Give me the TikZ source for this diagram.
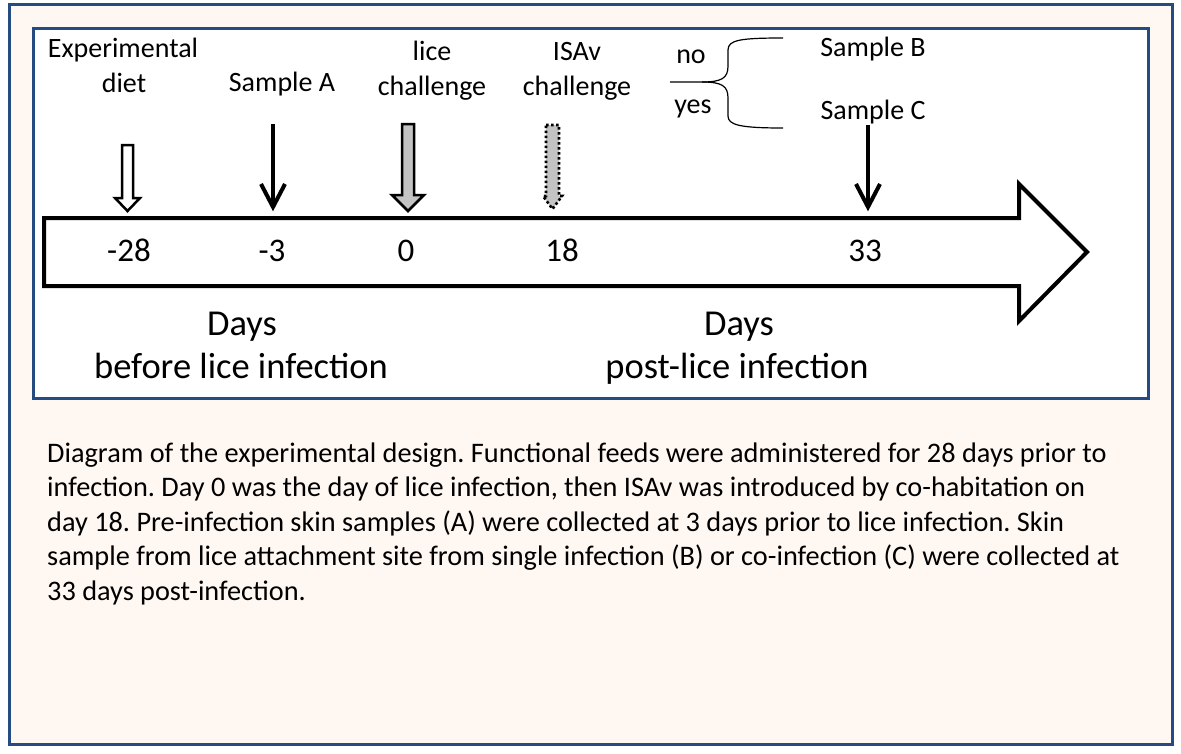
\documentclass[tikz,border=0pt]{standalone}
\usepackage{fontspec}
\setmainfont{Carlito}
\usetikzlibrary{calc}
\definecolor{frameblue}{RGB}{36,76,130}
\definecolor{cream}{RGB}{255,248,242}
\definecolor{arrowgrey}{RGB}{195,195,195}
\tikzset{
  lbl/.style={anchor=base,inner sep=0pt,font=\fontsize{28}{30}\selectfont},
  numlbl/.style={anchor=base,inner sep=0pt,font=\fontsize{33}{36}\selectfont},
  dayslbl/.style={anchor=base,inner sep=0pt,font=\fontsize{36.5}{40}\selectfont},
  smalllbl/.style={anchor=base,inner sep=0pt,font=\fontsize{28}{30}\selectfont},
  caplbl/.style={anchor=base west,inner sep=0pt,font=\fontsize{28.3}{30}\selectfont\frenchspacing},
  thickarrow/.style={line width=4pt,miter limit=10},
}
\begin{document}
\begin{tikzpicture}[x=1pt,y=-1pt]
\useasboundingbox (0,0) rectangle (1181,753);
% outer frame
\draw[frameblue,line width=3pt,fill=cream] (9,4) rectangle (1172,744);
% inner frame
\draw[frameblue,line width=3pt,fill=white] (33,28) rectangle (1148,398);
% timeline arrow
\draw[line width=4pt,miter limit=10] (44,218) -- (1019,218) -- (1019,184) -- (1087,252)
  -- (1019,321) -- (1019,286) -- (44,286) -- cycle;
% numbers
\node[numlbl] (n28) at (129,261) {-28};
\node[numlbl] (n3) at (272,261) {-3};
\node[numlbl] (n0) at (406,261) {0};
\node[numlbl] (n18) at (562,261) {18};
\node[numlbl] (n33) at (865,261) {33};
% top labels
\node[lbl] (expA) at (123,57) {Experimental};
\node[lbl] (expB) at (124,92) {diet};
\node[lbl] (sampA) at (282,91) {Sample A};
\node[lbl] (liceA) at (432,60) {lice};
\node[lbl] (liceB) at (432,95) {challenge};
\node[lbl] (isavA) at (577,60) {ISAv};
\node[lbl] (isavB) at (577,95) {challenge};
% experimental diet hollow arrow
\draw[line width=2.5pt,fill=white] (122,145) -- (133,145) -- (133,198) -- (140,198) -- (127.5,211)
  -- (115,198) -- (122,198) -- cycle;
% Sample A arrow
\coordinate (aTop) at (273,124);
\coordinate (aTip) at (273,207);
\draw[thickarrow] (aTop) -- ($(aTip)+(0,-3)$);
\draw[thickarrow] (261,184) -- (aTip) -- (285,184);
% lice challenge grey arrow
\draw[line width=2.5pt,fill=arrowgrey] (402,124) -- (414,124) -- (414,195) -- (424,195) -- (408,211)
  -- (392,195) -- (402,195) -- cycle;
% ISAv dotted arrow
\draw[line width=2.6pt,fill=arrowgrey,dash pattern=on 2.6pt off 2.4pt] (546,125) -- (559,125) -- (559,196) -- (562,196) -- (552.5,209)
  -- (543,196) -- (546,196) -- cycle;
% Sample C arrow
\coordinate (cTop) at (868,125);
\coordinate (cTip) at (868,207);
\draw[thickarrow] (cTop) -- ($(cTip)+(0,-3)$);
\draw[thickarrow] (856,184) -- (cTip) -- (880,184);
% brace and branches
\node[smalllbl] (no) at (691,63) {no};
\node[smalllbl] (yes) at (693,113) {yes};
\node[smalllbl] (sampB) at (873,56) {Sample B};
\node[smalllbl] (sampC) at (873,119) {Sample C};
\coordinate (bIn) at (670,82);
\coordinate (bTip) at (717,82);
\draw[line width=1.2pt] (bIn) -- (702,82)
  .. controls (722,82) and (728,78) .. (728,66) -- (728,50)
  .. controls (728,40) and (740,38) .. (783,38);
\draw[line width=1.2pt] (702,82)
  .. controls (722,82) and (728,86) .. (728,98) -- (728,116)
  .. controls (728,125) and (740,128) .. (783,128);
% days labels
\node[dayslbl] (daysL) at (242,335) {Days};
\node[dayslbl] (beforeL) at (241,378) {before lice infection};
\node[dayslbl] (daysR) at (739,335) {Days};
\node[dayslbl] (postR) at (737,378) {post-lice infection};
% caption
\node[caplbl] (c1) at (47,462) {Diagram of the experimental design. Functional feeds were administered for 28 days prior to};
\node[caplbl] (c2) at (47,496.5) {infection. Day 0 was the day of lice infection, then ISAv was introduced by co-habitation on};
\node[caplbl] (c3) at (47,531) {day 18. Pre-infection skin samples (A) were collected at 3 days prior to lice infection. Skin};
\node[caplbl] (c4) at (47,565.5) {sample from lice attachment site from single infection (B) or co-infection (C) were collected at};
\node[caplbl] (c5) at (47,600) {33 days post-infection.};
\end{tikzpicture}
\end{document}
